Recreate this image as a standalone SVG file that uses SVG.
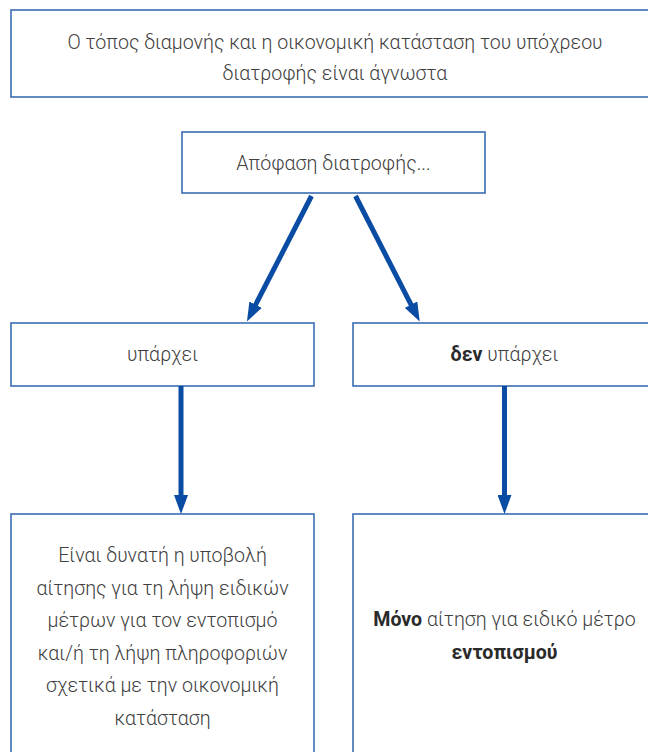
<svg xmlns="http://www.w3.org/2000/svg" width="648" height="752" viewBox="0 0 648 752">
<style>
.box{fill:#fff;stroke:#3a6db3;stroke-width:1.6}
.t{font-family:Roboto,"Open Sans","Liberation Sans",sans-serif;font-weight:300;font-size:19.6px;fill:#404040;text-anchor:middle}
.b{font-weight:700;fill:#2a2a2a}
.c{stroke:#0a4ca3;stroke-width:5;fill:none}
</style>
<defs>
<marker id="ah" markerUnits="userSpaceOnUse" markerWidth="19" markerHeight="14" refX="0.5" refY="7" orient="auto" viewBox="0 0 19 14">
<path d="M0,0 L19,7 L0,14 Z" fill="#0a4ca3"/>
</marker>
</defs>
<rect width="648" height="752" fill="#fff"/>
<g id="n1"><rect class="box" x="11" y="10" width="648" height="87"/>
<text class="t" x="335" y="48.5">Ο τόπος διαμονής και η οικονομική κατάσταση του υπόχρεου</text>
<text class="t" x="335" y="79.5">διατροφής είναι άγνωστα</text></g>
<g id="n2"><rect class="box" x="182" y="132" width="303" height="61"/>
<text class="t" x="333.5" y="170">Απόφαση διατροφής...</text></g>
<g id="n3"><rect class="box" x="11" y="323" width="303" height="63"/>
<text class="t" x="162.5" y="361">υπάρχει</text></g>
<g id="n4"><rect class="box" x="353" y="323" width="303" height="63"/>
<text class="t" x="504.5" y="361"><tspan class="b">δεν</tspan> υπάρχει</text></g>
<g id="n5"><rect class="box" x="11" y="514" width="303" height="250"/>
<text class="t" x="162.5" y="562">Είναι δυνατή η υποβολή</text>
<text class="t" x="162.5" y="594.5">αίτησης για τη λήψη ειδικών</text>
<text class="t" x="162.5" y="627">μέτρων για τον εντοπισμό</text>
<text class="t" x="162.5" y="659.5">και/ή τη λήψη πληροφοριών</text>
<text class="t" x="162.5" y="692">σχετικά με την οικονομική</text>
<text class="t" x="162.5" y="724.5">κατάσταση</text></g>
<g id="n6"><rect class="box" x="353" y="514" width="303" height="250"/>
<text class="t" x="504.5" y="626"><tspan class="b">Μόνο</tspan> αίτηση για ειδικό μέτρο</text>
<text class="t" x="504.5" y="659"><tspan class="b">εντοπισμού</tspan></text></g>
<g id="connectors">
<line class="c" x1="311.5" y1="196" x2="255.4" y2="305.1" marker-end="url(#ah)"/>
<line class="c" x1="355.5" y1="196" x2="411.3" y2="305.1" marker-end="url(#ah)"/>
<line class="c" x1="181" y1="386" x2="181" y2="495.5" marker-end="url(#ah)"/>
<line class="c" x1="504.5" y1="386" x2="504.5" y2="495.5" marker-end="url(#ah)"/>
</g>
</svg>
